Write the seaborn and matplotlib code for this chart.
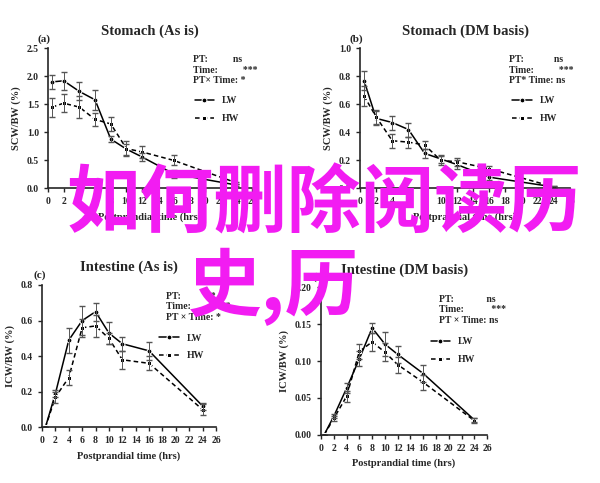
import numpy as np
import pandas as pd
import matplotlib
matplotlib.use("Agg")
import matplotlib.pyplot as plt
import seaborn as sns

sns.set_style("ticks")
plt.rcParams['font.family'] = ['Liberation Serif', 'DejaVu Serif']
plt.rcParams['font.weight'] = 'bold'

# ---- data ----
time = [0.5, 2, 4, 6, 8, 10, 12, 16, 24]

stom_as_lw = [1.90, 1.92, 1.73, 1.58, 0.88, 0.70, 0.56, 0.26, 0.06]
stom_as_hw = [1.45, 1.52, 1.45, 1.23, 1.15, 0.71, 0.65, 0.50, 0.10]
stom_as_lw_err = [0.12, 0.16, 0.16, 0.18, 0.06, 0.10, 0.08, 0.07, 0.02]
stom_as_hw_err = [0.17, 0.16, 0.20, 0.12, 0.13, 0.13, 0.10, 0.09, 0.02]

stom_dm_lw = [0.77, 0.50, 0.47, 0.42, 0.25, 0.21, 0.17, 0.08, 0.01]
stom_dm_hw = [0.66, 0.51, 0.34, 0.33, 0.31, 0.20, 0.19, 0.14, 0.01]
stom_dm_lw_err = [0.07, 0.05, 0.05, 0.05, 0.03, 0.03, 0.03, 0.02, 0.005]
stom_dm_hw_err = [0.07, 0.05, 0.05, 0.04, 0.03, 0.03, 0.03, 0.02, 0.005]

int_as_lw = [0.00, 0.19, 0.49, 0.60, 0.65, 0.53, 0.47, 0.43, 0.12]
int_as_hw = [0.00, 0.17, 0.28, 0.56, 0.57, 0.50, 0.38, 0.36, 0.10]
int_as_lw_err = [0.0, 0.02, 0.07, 0.08, 0.05, 0.06, 0.04, 0.05, 0.02]
int_as_hw_err = [0.0, 0.03, 0.04, 0.05, 0.06, 0.03, 0.05, 0.04, 0.03]

int_dm_lw = [0.000, 0.025, 0.063, 0.103, 0.145, 0.123, 0.109, 0.083, 0.020]
int_dm_hw = [0.000, 0.022, 0.052, 0.113, 0.126, 0.112, 0.095, 0.071, 0.019]
int_dm_lw_err = [0.0, 0.003, 0.007, 0.01, 0.007, 0.016, 0.012, 0.012, 0.003]
int_dm_hw_err = [0.0, 0.004, 0.007, 0.01, 0.012, 0.012, 0.011, 0.01, 0.003]

panels = [
    ("(a)", "Stomach (As is)", "SCW/BW (%)", stom_as_lw, stom_as_hw, stom_as_lw_err, stom_as_hw_err,
     2.5, 0.5, ["PT:          ns", "Time:          ***", "PT× Time: *"]),
    ("(b)", "Stomach (DM basis)", "SCW/BW (%)", stom_dm_lw, stom_dm_hw, stom_dm_lw_err, stom_dm_hw_err,
     1.0, 0.2, ["PT:            ns", "Time:          ***", "PT* Time: ns"]),
    ("(c)", "Intestine (As is)", "ICW/BW (%)", int_as_lw, int_as_hw, int_as_lw_err, int_as_hw_err,
     0.8, 0.2, ["PT:          **", "Time:          ***", "PT × Time: *"]),
    ("(d)", "Intestine (DM basis)", "ICW/BW (%)", int_dm_lw, int_dm_hw, int_dm_lw_err, int_dm_hw_err,
     0.20, 0.05, ["PT:             ns", "Time:           ***", "PT × Time: ns"]),
]

rects = [[0.08, 0.61, 0.34, 0.29], [0.60, 0.61, 0.35, 0.29],
         [0.07, 0.115, 0.29, 0.295], [0.535, 0.10, 0.277, 0.305]]

fig = plt.figure(figsize=(6, 4.83), dpi=100)

for rect, (lab, title, ylab, lw, hw, lwe, hwe, ymax, ystep, stats) in zip(rects, panels):
    ax = fig.add_axes(rect)
    df = pd.DataFrame({"time": time * 2, "val": lw + hw, "grp": ["LW"] * 9 + ["HW"] * 9})
    sns.lineplot(data=df, x="time", y="val", hue="grp", style="grp",
                 palette={"LW": "black", "HW": "black"},
                 dashes={"LW": "", "HW": (3, 2)}, markers={"LW": "o", "HW": "s"},
                 markersize=3.5, linewidth=1.1, ax=ax)
    ax.errorbar(time, lw, yerr=lwe, fmt="none", ecolor="#555555", elinewidth=0.7, capsize=2)
    ax.errorbar(time, hw, yerr=hwe, fmt="none", ecolor="#555555", elinewidth=0.7, capsize=2)
    ax.set_xlim(0, 26)
    ax.set_ylim(0, ymax)
    ax.set_xticks(range(0, 27, 2))
    yt = np.arange(0, ymax + ystep / 2, ystep)
    ax.set_yticks(yt)
    ax.set_yticklabels([f"{v:.2f}" if ymax < 0.5 else f"{v:.1f}" for v in yt])
    ax.tick_params(labelsize=7, length=3, width=1)
    for s in ["left", "bottom"]:
        ax.spines[s].set_linewidth(1.2)
    sns.despine(ax=ax)
    ax.set_xlabel("Postprandial time (hrs)", fontsize=7.5, fontweight="bold")
    ax.set_ylabel(ylab, fontsize=7.5, fontweight="bold")
    ax.set_title(title, fontsize=10.5, fontweight="bold", pad=10)
    ax.text(-0.05, 1.05, lab, transform=ax.transAxes, fontsize=8, fontweight="bold")
    ax.text(0.71, 0.95, "\n".join(stats), transform=ax.transAxes, fontsize=7,
            fontweight="bold", va="top", linespacing=1.2)
    ax.legend(title=None, frameon=False, loc="upper right",
              bbox_to_anchor=(0.98, 0.72), handlelength=2, labelspacing=0.9,
              prop={"weight": "bold", "size": 7})

# watermark
fig.text(0.54, 0.575, "如何删除阅读历", color="#f21cf2", fontsize=53, ha="center", va="center",
         family=["Noto Sans CJK SC", "DejaVu Sans"], fontweight="bold")
fig.text(0.455, 0.405, "史,历", color="#f21cf2", fontsize=53, ha="center", va="center",
         family=["Noto Sans CJK SC", "DejaVu Sans"], fontweight="bold")

fig.savefig("out.png", dpi=100)
